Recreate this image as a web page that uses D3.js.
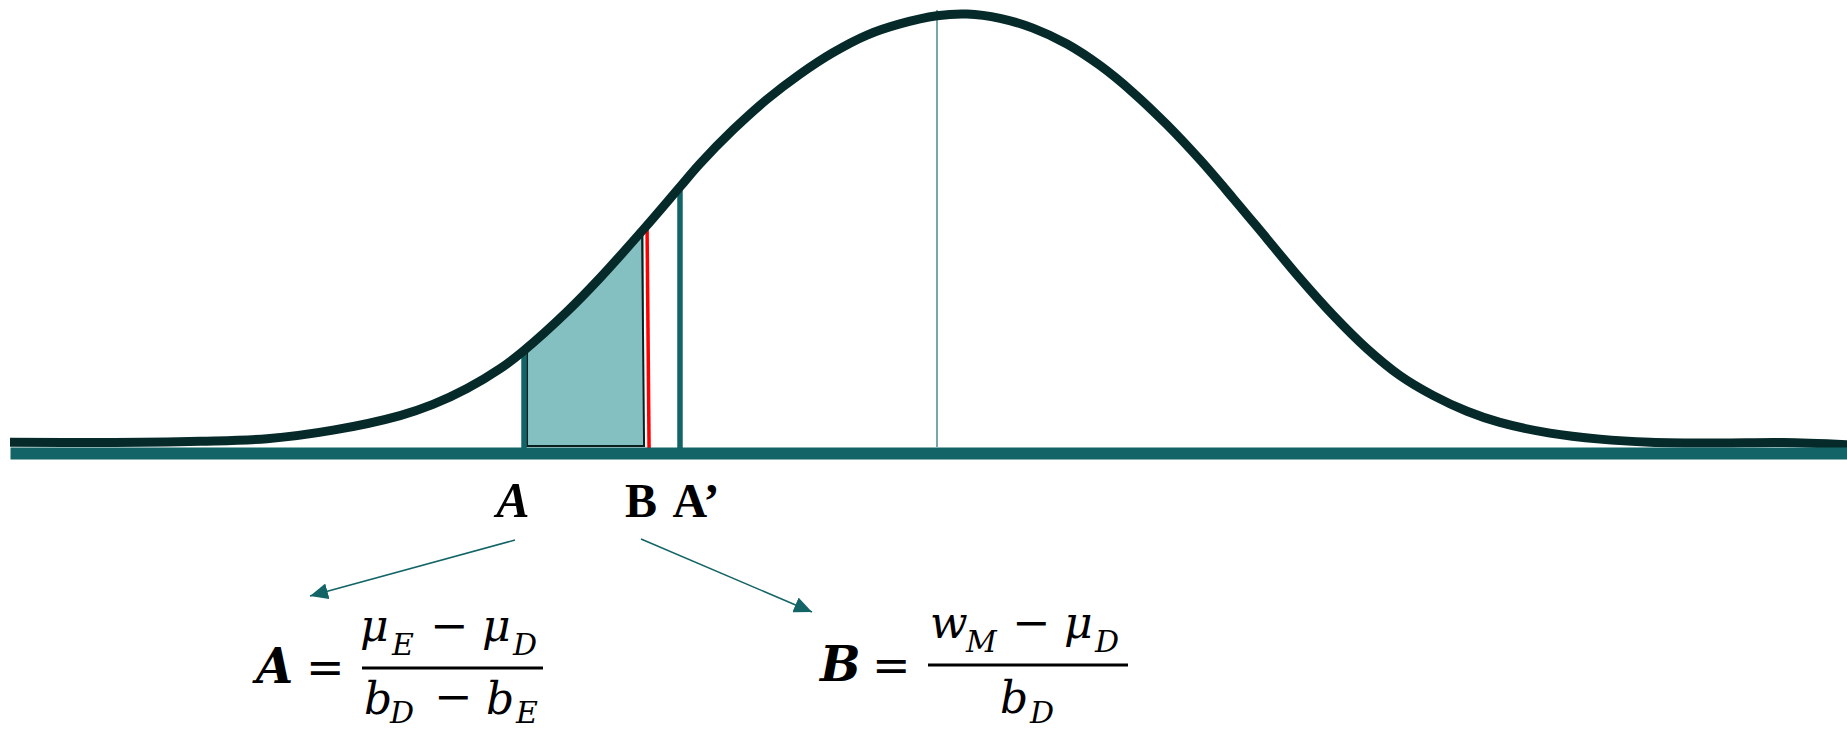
<!DOCTYPE html>
<html>
<head>
<meta charset="utf-8">
<script src="https://cdn.jsdelivr.net/npm/d3@7"></script>
<style>
  html, body { margin: 0; padding: 0; background: #fff; overflow: hidden; }
  .lbl { font-family: "Liberation Serif", "Times New Roman", serif; font-weight: bold; fill: #000; }
  .math { font-family: "DejaVu Serif", serif; fill: #000; }
</style>
</head>
<body>
<div id="vis"></div>
<script>
const width = 1847, height = 729;

// bell curve: position in sd units, height as share of the peak
const curveZ = [-4.0, -3.612, -3.18, -2.891, -2.606, -2.317, -2.175, -2.028, -1.886, -1.786,
  -1.597, -1.454, -1.26, -1.109, -1.023, -0.88, -0.734, -0.591, -0.449, -0.302, -0.16, 0,
  0.129, 0.272, 0.414, 0.561, 0.703, 0.846, 0.992, 1.135, 1.277, 1.424, 1.566, 1.709,
  1.855, 1.998, 2.14, 2.287, 2.429, 2.645, 2.861, 3.077, 3.366, 3.65, 3.927];
const curveD = [0.002, 0.001, 0.004, 0.01, 0.03, 0.064, 0.09, 0.127, 0.173, 0.214,
  0.306, 0.385, 0.502, 0.597, 0.651, 0.73, 0.801, 0.86, 0.91, 0.951, 0.977, 0.996,
  1.0, 0.99, 0.967, 0.93, 0.88, 0.817, 0.742, 0.66, 0.571, 0.476, 0.384, 0.298,
  0.22, 0.157, 0.111, 0.074, 0.048, 0.023, 0.009, 0.002, 0.0, 0.001, -0.004];

// cut points on the axis
const markerNames = ['A', 'B', 'A\u2019'];
const markerZ = [-1.782, -1.251, -1.109];
const markerD = [0.21, 0.497, 0.597];
const shadeZ = [-1.769, -1.264];
const meanZ = 0;

const curveData = curveZ.map((z, i) => ({z: z, d: curveD[i]}));
const markers = markerNames.map((n, i) => ({name: n, z: markerZ[i], d: markerD[i]}));

const teal = '#136466', dark = '#062a2a';

const svg = d3.select('#vis')
    .append('svg')
    .attr('width', width)
    .attr('height', height);

const xScale = d3.scaleLinear().domain([-4, 4]).range([10, 1864]);
const yScale = d3.scaleLinear().domain([0, 1]).range([443, 14]);
const base = yScale(0) + 4;

svg.append('defs').append('clipPath')
    .attr('id', 'shade')
    .append('rect')
    .attr('x', xScale(shadeZ[0]))
    .attr('width', xScale(shadeZ[1]) - xScale(shadeZ[0]))
    .attr('y', 0)
    .attr('height', base);

svg.select('defs').append('marker')
    .attr('id', 'head')
    .attr('markerUnits', 'userSpaceOnUse')
    .attr('markerWidth', 20).attr('markerHeight', 16)
    .attr('refX', 18).attr('refY', 8)
    .attr('orient', 'auto')
    .append('path')
    .attr('d', 'M0,0 L18,8 L0,16 Z')
    .attr('fill', teal);

// shaded probability area
const area = d3.area()
    .x(d => xScale(d.z))
    .y0(base)
    .y1(d => yScale(d.d))
    .curve(d3.curveCatmullRom);

svg.append('path')
    .datum(curveData)
    .attr('d', area)
    .attr('fill', '#84c0c1')
    .attr('clip-path', 'url(#shade)');

// black outline of the shaded area
svg.append('path')
    .attr('d', d3.line()([
        [xScale(shadeZ[0]), yScale(markerD[0]) - 2],
        [xScale(shadeZ[0]), base - 1],
        [xScale(shadeZ[1]), base - 1],
        [xScale(shadeZ[1]) - 2, yScale(markerD[1])]
    ]))
    .attr('fill', 'none')
    .attr('stroke', '#0b1f1f')
    .attr('stroke-width', 2);

// mean line
svg.append('line')
    .attr('x1', xScale(meanZ)).attr('x2', xScale(meanZ))
    .attr('y1', yScale(1) - 4).attr('y2', base)
    .attr('stroke', '#4b8a8a')
    .attr('stroke-width', 1.5);

// marker lines
svg.selectAll('.marker')
    .data(markers)
    .join('line')
    .attr('class', 'marker')
    .attr('x1', d => xScale(d.z))
    .attr('x2', d => d.name === 'B' ? xScale(d.z) + 2 : xScale(d.z))
    .attr('y1', d => yScale(d.d))
    .attr('y2', base + 1)
    .attr('stroke', d => d.name === 'B' ? '#ff0000' : teal)
    .attr('stroke-width', d => d.name === 'B' ? 3.5 : 5.5);

// the curve
svg.append('path')
    .datum(curveData)
    .attr('d', d3.line().x(d => xScale(d.z)).y(d => yScale(d.d)).curve(d3.curveCatmullRom))
    .attr('fill', 'none')
    .attr('stroke', dark)
    .attr('stroke-width', 9);

// axis as a thick band
svg.append('g')
    .attr('class', 'axis')
    .attr('transform', `translate(0,${base + 6})`)
    .call(d3.axisBottom(xScale).tickValues([]).tickSizeOuter(0))
    .select('.domain')
    .attr('stroke', teal)
    .attr('stroke-width', 12);

// labels under the axis
const labelShift = {'A': -11, 'B': -6, 'A\u2019': 16};
svg.selectAll('.lbl')
    .data(markers)
    .join('text')
    .attr('class', 'lbl')
    .attr('x', d => xScale(d.z) + labelShift[d.name])
    .attr('y', 517)
    .attr('text-anchor', 'middle')
    .attr('font-size', d => d.name === 'A' ? 50 : 48)
    .attr('font-style', d => d.name === 'A' ? 'italic' : 'normal')
    .text(d => d.name);

// arrows to the formulas
const arrows = [
    {from: [515, 540], to: [310, 596]},
    {from: [641, 539], to: [812, 612]}
];
svg.selectAll('.arrow')
    .data(arrows)
    .join('line')
    .attr('class', 'arrow')
    .attr('x1', d => d.from[0]).attr('y1', d => d.from[1])
    .attr('x2', d => d.to[0]).attr('y2', d => d.to[1])
    .attr('stroke', teal)
    .attr('stroke-width', 1.5)
    .attr('marker-end', 'url(#head)');

// formulas, piece by piece
function formula(pieces, bar){
    const g = svg.append('g');
    g.selectAll('text')
        .data(pieces)
        .join('text')
        .attr('class', 'math')
        .attr('x', d => d.x)
        .attr('y', d => d.y)
        .attr('font-size', d => d.s)
        .attr('font-style', d => d.up ? 'normal' : 'italic')
        .attr('font-weight', d => d.b ? 'bold' : 'normal')
        .text(d => d.t);
    g.append('line')
        .attr('x1', bar[0]).attr('x2', bar[1])
        .attr('y1', bar[2]).attr('y2', bar[2])
        .attr('stroke', '#000')
        .attr('stroke-width', 3);
}

formula([
    {t: 'A', x: 256, y: 683, s: 48, b: true},
    {t: '=', x: 306, y: 683, s: 46, up: true},
    {t: 'μ', x: 360, y: 641, s: 44},
    {t: 'E', x: 392, y: 655, s: 30},
    {t: '\u2212', x: 430, y: 641, s: 46, up: true},
    {t: 'μ', x: 482, y: 641, s: 44},
    {t: 'D', x: 513, y: 655, s: 30},
    {t: 'b', x: 364, y: 714, s: 44},
    {t: 'D', x: 390, y: 723, s: 30},
    {t: '\u2212', x: 434, y: 712, s: 46, up: true},
    {t: 'b', x: 486, y: 714, s: 44},
    {t: 'E', x: 516, y: 723, s: 30}
], [362, 543, 668]);

formula([
    {t: 'B', x: 820, y: 681, s: 48, b: true},
    {t: '=', x: 872, y: 681, s: 46, up: true},
    {t: 'w', x: 930, y: 638, s: 44},
    {t: 'M', x: 966, y: 652, s: 30},
    {t: '\u2212', x: 1012, y: 638, s: 46, up: true},
    {t: 'μ', x: 1064, y: 638, s: 44},
    {t: 'D', x: 1095, y: 652, s: 30},
    {t: 'b', x: 1000, y: 713, s: 44},
    {t: 'D', x: 1030, y: 723, s: 30}
], [928, 1128, 665]);
</script>
</body>
</html>
